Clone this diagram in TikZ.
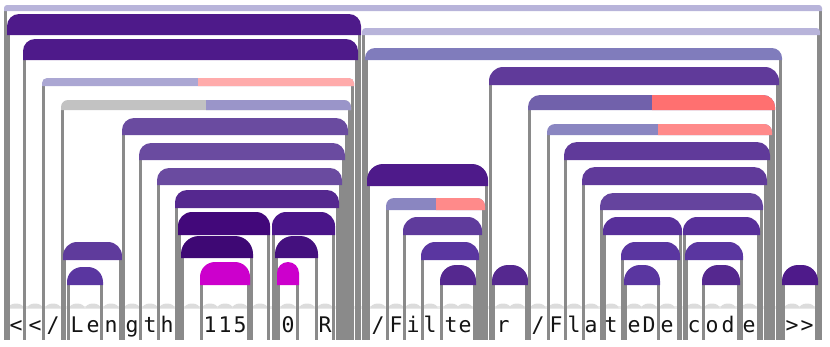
\documentclass[tikz,border=0pt]{standalone}
\usepackage{fontspec}
\newfontfamily\monof{DejaVu Sans Mono}
\definecolor{lavA}{HTML}{B8B4DA}
\definecolor{dp}{HTML}{4E1A8A}
\definecolor{lavB}{HTML}{ABA7D3}
\definecolor{pinkA}{HTML}{FFABAB}
\definecolor{grayC}{HTML}{C2C2C2}
\definecolor{lavC}{HTML}{9A95C9}
\definecolor{pF}{HTML}{6A4BA0}
\definecolor{pH}{HTML}{55288F}
\definecolor{pI}{HTML}{42087A}
\definecolor{pJ}{HTML}{4A1589}
\definecolor{pK}{HTML}{3E0874}
\definecolor{pM}{HTML}{44107E}
\definecolor{mag}{HTML}{CC00CC}
\definecolor{pO}{HTML}{5F3B9C}
\definecolor{pP}{HTML}{5A36A0}
\definecolor{slate}{HTML}{807CBC}
\definecolor{blueB}{HTML}{8A86C1}
\definecolor{pinkB}{HTML}{FF8A8A}
\definecolor{pE}{HTML}{603A9A}
\definecolor{slateB}{HTML}{7161AB}
\definecolor{salmon}{HTML}{FF7070}
\definecolor{pEf}{HTML}{65449E}
\definecolor{pEg}{HTML}{58309A}
\definecolor{legc}{HTML}{8A8A8A}
\definecolor{scalc}{HTML}{DCDCDC}
\definecolor{txtc}{HTML}{141414}
\tikzset{
  leg/.style={fill=legc},
  ch/.style={anchor=base,inner sep=0pt,text=txtc,font=\monof\fontsize{21.5}{24}\selectfont},
  scal/.style={fill=scalc}
}
% color x1 x2 ytop ybot r
\newcommand{\archshape}[6]{%
  \fill[#1] (#2,-#5) -- (#2,{-(#4+#6)}) arc[start angle=180,end angle=90,radius=#6pt]
    -- ({#3-#6},-#4) arc[start angle=90,end angle=0,radius=#6pt] -- (#3,-#5) -- cycle;}
% x1 x2 ybot
\newcommand{\archlegs}[3]{%
  \fill[leg] (#1,{-(#3-1)}) rectangle ({#1+3.3},-340);
  \fill[leg] ({#2-3.3},{-(#3-1)}) rectangle (#2,-340);}
% x1 x2 ytop ybot r color
\newcommand{\arch}[6]{\archlegs{#1}{#2}{#4}\archshape{#6}{#1}{#2}{#3}{#4}{#5}}
% x1 x2 ytop ybot r c1 c2 split
\newcommand{\archtwo}[8]{\archlegs{#1}{#2}{#4}\archshape{#6}{#1}{#2}{#3}{#4}{#5}%
  \begin{scope}\clip (#8,0) rectangle (900,-400);\archshape{#7}{#1}{#2}{#3}{#4}{#5}\end{scope}}
\newcommand{\scallop}[1]{\fill[scal] ({#1-7.5},-308) arc[start angle=180,end angle=0,x radius=7.5pt,y radius=4.5pt] -- cycle;}
\begin{document}
\begin{tikzpicture}[x=1pt,y=1pt]
\useasboundingbox (0,0) rectangle (830,-346);
% thin base band and scallops under each character cell
\fill[scalc!60] (4,-306) rectangle (822,-309);
\foreach \sx in {16,35,53,77,93,111,132,150,167,192,210,225,240,260,288,307,325,378,396,413,430,451,465,503,517,538,556,574,591,611,634,649,667,694,712,728,749,792,807}{\scallop{\sx}}
% arches (outer to inner)
\arch{4}{822}{5}{11}{3}{lavA}
\arch{362}{820}{28}{35}{3.5}{lavA}
\arch{7}{361}{14}{35}{12}{dp}
\arch{23}{358}{39}{60}{12}{dp}
\archtwo{42}{354}{78}{86}{5}{lavB}{pinkA}{198}
\archtwo{61}{351}{100}{110}{7}{grayC}{lavC}{206}
\arch{63}{122}{242}{260}{14}{pO}
\arch{67}{103}{267}{285}{15}{pP}
\arch{122}{348}{118}{135}{12}{pF}
\arch{139}{345}{143}{160}{12}{pF}
\arch{157}{342}{168}{185}{12}{pF}
\arch{175}{339}{190}{208}{12}{pH}
\arch{178}{270}{212}{235}{14}{pI}
\arch{181}{253}{236}{258}{18}{pK}
\arch{200}{250}{262}{285}{15}{mag}
\arch{272}{335}{212}{235}{14}{pJ}
\arch{275}{318}{236}{258}{18}{pM}
\arch{277}{299}{262}{285}{11}{mag}
\arch{365}{782}{48}{60}{10}{slate}
\arch{367}{488}{164}{186}{16}{dp}
\archtwo{386}{485}{198}{210}{8}{blueB}{pinkB}{436}
\arch{403}{482}{217}{235}{14}{pO}
\arch{421}{479}{242}{260}{14}{pP}
\arch{440}{476}{265}{285}{16}{pH}
\arch{489}{779}{67}{85}{14}{pE}
\arch{492}{528}{265}{285}{16}{pH}
\archtwo{528}{775}{95}{110}{12}{slateB}{salmon}{652}
\archtwo{547}{772}{124}{135}{8}{blueB}{pinkB}{658}
\arch{564}{770}{142}{160}{13}{pE}
\arch{582}{767}{167}{185}{13}{pE}
\arch{600}{763}{193}{210}{13}{pEf}
\arch{603}{682}{217}{235}{14}{pEg}
\arch{683}{760}{217}{235}{14}{pEg}
\arch{621}{680}{242}{260}{14}{pP}
\arch{685}{743}{242}{260}{14}{pP}
\arch{624}{660}{265}{285}{16}{pP}
\arch{702}{740}{265}{285}{16}{pH}
\arch{782}{818}{265}{285}{16}{dp}
% characters
\node[ch] (c01) at (16,-332) {<};
\node[ch] (c02) at (35,-332) {<};
\node[ch] (c03) at (53,-332) {/};
\node[ch] (c04) at (77,-332) {L};
\node[ch] (c05) at (93,-332) {e};
\node[ch] (c06) at (111,-332) {n};
\node[ch] (c07) at (132,-332) {g};
\node[ch] (c08) at (150,-332) {t};
\node[ch] (c09) at (167,-332) {h};
\node[ch] (c10) at (210,-332) {1};
\node[ch] (c11) at (225,-332) {1};
\node[ch] (c12) at (240,-332) {5};
\node[ch] (c13) at (288,-332) {0};
\node[ch] (c14) at (325,-332) {R};
\node[ch] (c15) at (378,-332) {/};
\node[ch] (c16) at (396,-332) {F};
\node[ch] (c17) at (413,-332) {i};
\node[ch] (c18) at (430,-332) {l};
\node[ch] (c19) at (451,-332) {t};
\node[ch] (c20) at (465,-332) {e};
\node[ch] (c21) at (503,-332) {r};
\node[ch] (c22) at (538,-332) {/};
\node[ch] (c23) at (556,-332) {F};
\node[ch] (c24) at (574,-332) {l};
\node[ch] (c25) at (591,-332) {a};
\node[ch] (c26) at (611,-332) {t};
\node[ch] (c27) at (634,-332) {e};
\node[ch] (c28) at (649,-332) {D};
\node[ch] (c29) at (667,-332) {e};
\node[ch] (c30) at (694,-332) {c};
\node[ch] (c31) at (712,-332) {o};
\node[ch] (c32) at (728,-332) {d};
\node[ch] (c33) at (749,-332) {e};
\node[ch] (c34) at (792,-332) {>};
\node[ch] (c35) at (807,-332) {>};
\end{tikzpicture}
\end{document}
